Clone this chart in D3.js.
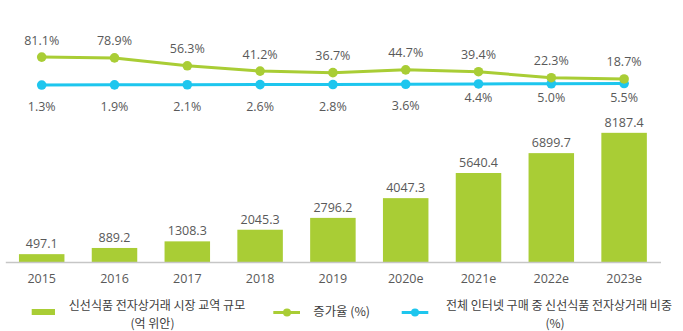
<!DOCTYPE html>
<html><head><meta charset="utf-8">
<script src="https://cdn.jsdelivr.net/npm/d3@7"></script>
<style>
html,body{margin:0;padding:0;background:#fff;}
svg{display:block;}
text{font-family:"Open Sans","Noto Sans",sans-serif;fill:#595959;}
.kr{font-family:"Noto Sans CJK KR","Noto Sans",sans-serif;fill:#404040;}
</style></head>
<body>
<script>
const years = ["2015","2016","2017","2018","2019","2020e","2021e","2022e","2023e"];
const marketSize = [497.1, 889.2, 1308.3, 2045.3, 2796.2, 4047.3, 5640.4, 6899.7, 8187.4];
const growthRate = [81.1, 78.9, 56.3, 41.2, 36.7, 44.7, 39.4, 22.3, 18.7];
const shareOfOnline = [1.3, 1.9, 2.1, 2.6, 2.8, 3.6, 4.4, 5.0, 5.5];
const legendLabels = [["신선식품 전자상거래 시장 교역 규모","(억 위안)"],["증가율 (%)"],["전체 인터넷 구매 중 신선식품 전자상거래 비중","(%)"]];

const W = 683, H = 331;
const GREEN = "#A9CD35", BLUE = "#1EC6EE";
const svg = d3.select("body").append("svg").attr("width", W).attr("height", H);

const x = d3.scaleBand().domain(years).range([5.3, 660.5]).paddingInner(0.375).paddingOuter(0.1875);
const cx = d => x(d) + x.bandwidth() / 2;
const yBar = d3.scaleLinear().domain([0, 9000]).range([262, 120]);
const yPct = d3.scaleLinear().domain([0, 100]).range([85.5, 50.5]);

// bars
svg.append("g").selectAll("rect").data(years).join("rect")
  .attr("x", d => x(d)).attr("width", x.bandwidth())
  .attr("y", (d, i) => yBar(marketSize[i]))
  .attr("height", (d, i) => yBar(0) - yBar(marketSize[i]))
  .attr("fill", GREEN);

svg.append("g").selectAll("text").data(years).join("text")
  .attr("x", d => cx(d)).attr("y", (d, i) => yBar(marketSize[i]) - 6)
  .attr("text-anchor", "middle").attr("font-size", 12.5)
  .text((d, i) => marketSize[i].toFixed(1));

// axis
const axis = svg.append("g").attr("transform", "translate(0,262)")
  .call(d3.axisBottom(x).tickSize(0).tickPadding(12));
axis.select(".domain").attr("stroke", "#C6C6C6").attr("stroke-width", 1.5);
axis.selectAll(".tick text").attr("font-size", 12.5).attr("fill", "#595959")
  .attr("font-family", "Open Sans, Noto Sans, sans-serif");

// lines
function drawLine(vals, color) {
  const line = d3.line().x((d, i) => cx(years[i])).y(d => yPct(d));
  svg.append("path").datum(vals).attr("d", line)
    .attr("fill", "none").attr("stroke", color).attr("stroke-width", 3);
  svg.append("g").selectAll("circle").data(vals).join("circle")
    .attr("cx", (d, i) => cx(years[i])).attr("cy", d => yPct(d))
    .attr("r", 4.8).attr("fill", color);
}
drawLine(shareOfOnline, BLUE);
drawLine(growthRate, GREEN);

svg.append("g").selectAll("text").data(growthRate).join("text")
  .attr("x", (d, i) => cx(years[i])).attr("y", d => yPct(d) - 12.5)
  .attr("text-anchor", "middle").attr("font-size", 12.5)
  .text(d => d.toFixed(1) + "%");

svg.append("g").selectAll("text").data(shareOfOnline).join("text")
  .attr("x", (d, i) => cx(years[i]))
  .attr("y", (d, i) => yPct(d) + (i >= 6 ? 18.5 : 26))
  .attr("text-anchor", "middle").attr("font-size", 12.5)
  .text(d => d.toFixed(1) + "%");

// legend
const lg = svg.append("g");
lg.append("rect").attr("x", 31.7).attr("y", 309).attr("width", 23.3).attr("height", 6).attr("fill", GREEN);
const t1 = lg.append("text").attr("class", "kr").attr("font-size", 12).attr("text-anchor", "middle");
t1.append("tspan").attr("x", 157).attr("y", 310.3).text(legendLabels[0][0]);
t1.append("tspan").attr("x", 152.5).attr("y", 327.8).text(legendLabels[0][1]);

lg.append("line").attr("x1", 273.3).attr("x2", 300).attr("y1", 312.5).attr("y2", 312.5).attr("stroke", GREEN).attr("stroke-width", 3);
lg.append("circle").attr("cx", 287).attr("cy", 312.5).attr("r", 4).attr("fill", GREEN);
lg.append("text").attr("class", "kr").attr("font-size", 12.4).attr("x", 313.3).attr("y", 316.3).text(legendLabels[1][0]);

lg.append("line").attr("x1", 401.7).attr("x2", 428.3).attr("y1", 312.5).attr("y2", 312.5).attr("stroke", BLUE).attr("stroke-width", 3);
lg.append("circle").attr("cx", 415).attr("cy", 312.5).attr("r", 4).attr("fill", BLUE);
const t3 = lg.append("text").attr("class", "kr").attr("font-size", 12).attr("text-anchor", "middle");
t3.append("tspan").attr("x", 559).attr("y", 310.3).text(legendLabels[2][0]);
t3.append("tspan").attr("x", 555).attr("y", 327.8).text(legendLabels[2][1]);
</script>
</body></html>
